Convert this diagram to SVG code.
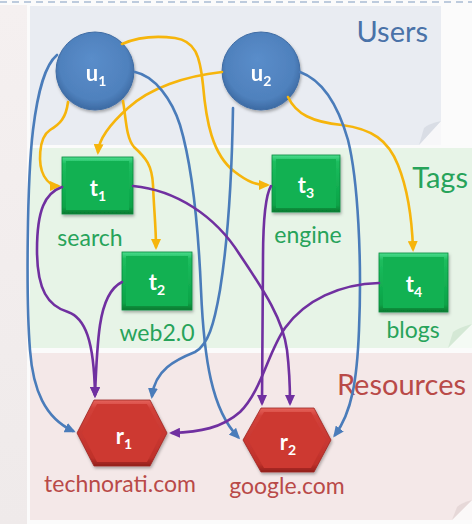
<svg xmlns="http://www.w3.org/2000/svg" width="472" height="524" viewBox="0 0 472 524">
  <defs>
    <style>
      .title { font-family: Lato, "Liberation Sans", sans-serif; font-size: 29px; text-anchor: end; }
      .lbl { font-family: Lato, "Liberation Sans", sans-serif; font-size: 23px; text-anchor: middle; }
      .nid { font-family: Lato, "Liberation Sans", sans-serif; font-size: 22px; font-weight: 700; fill: #ffffff; text-anchor: middle; }
      .sub { font-size: 14px; }
      .edge { fill: none; stroke-width: 2.6; stroke-linecap: round; }
      .ut { stroke: #f6b50c; marker-end: url(#aOrange); }
      .ur { stroke: #4a7cba; marker-end: url(#aBlue); }
      .tr { stroke: #7030a0; marker-end: url(#aPurple); }
    </style>
    <marker id="aOrange" markerUnits="userSpaceOnUse" markerWidth="12" markerHeight="10" refX="8" refY="5" orient="auto">
      <path d="M0,0 L11,5 L0,10 z" fill="#f6b50c"/>
    </marker>
    <marker id="aBlue" markerUnits="userSpaceOnUse" markerWidth="12" markerHeight="10" refX="8" refY="5" orient="auto">
      <path d="M0,0 L11,5 L0,10 z" fill="#4a7cba"/>
    </marker>
    <marker id="aPurple" markerUnits="userSpaceOnUse" markerWidth="12" markerHeight="10" refX="8" refY="5" orient="auto">
      <path d="M0,0 L11,5 L0,10 z" fill="#7030a0"/>
    </marker>
    <radialGradient id="gBlue" cx="50%" cy="45%" r="55%" fx="45%" fy="35%">
      <stop offset="0" stop-color="#5a8dca"/>
      <stop offset="0.8" stop-color="#4f81bd"/>
      <stop offset="1" stop-color="#3c6aa3"/>
    </radialGradient>
    <linearGradient id="gGreen" x1="0" y1="0" x2="0" y2="1">
      <stop offset="0" stop-color="#4cdc8e"/>
      <stop offset="0.12" stop-color="#1cbd5e"/>
      <stop offset="0.88" stop-color="#0aa347"/>
      <stop offset="1" stop-color="#06782f"/>
    </linearGradient>
    <linearGradient id="gRed" x1="0" y1="0" x2="0" y2="1">
      <stop offset="0" stop-color="#e6645c"/>
      <stop offset="0.12" stop-color="#d2413a"/>
      <stop offset="0.88" stop-color="#bf302a"/>
      <stop offset="1" stop-color="#91201c"/>
    </linearGradient>
    <linearGradient id="gMargin" x1="0" y1="0" x2="0" y2="1">
      <stop offset="0" stop-color="#f5f0f0"/>
      <stop offset="1" stop-color="#efeaea"/>
    </linearGradient>
    <filter id="shadow" x="-20%" y="-20%" width="140%" height="150%">
      <feDropShadow dx="1" dy="2" stdDeviation="1.5" flood-color="#000" flood-opacity="0.3"/>
    </filter>
  </defs>

  <!-- page background -->
  <rect x="0" y="0" width="472" height="524" fill="#fbfbfb"/>
  <rect x="0" y="5" width="27" height="519" fill="url(#gMargin)"/>
  <line x1="0" y1="2" x2="472" y2="2" stroke="#a9bcd3" stroke-width="1.5" stroke-dasharray="7 5"/>

  <!-- layer bands -->
  <g id="bands">
    <rect x="30" y="6" width="411" height="139" fill="#e9ecf2"/>
    <path d="M419,145 L441,121 L441,145 z" fill="#f7f7f9"/>
    <path d="M419,145 L441,121 Q428,124 424,128 z" fill="#d9dde5"/>
    <rect x="30" y="148" width="442" height="200" fill="#e7f4e7"/>
    <path d="M448,348 L472,324 L472,348 z" fill="#f4faf4"/>
    <path d="M448,348 L472,324 Q458,328 453,332 z" fill="#d4e8d5"/>
    <rect x="30" y="353" width="442" height="167" fill="#f4e8e8"/>
    <path d="M452,520 L472,500 L472,520 z" fill="#fbf8f8"/>
    <path d="M452,520 L472,500 Q461,503 457,507 z" fill="#e6d8d8"/>
    <text class="title" x="428" y="42" fill="#4a72a8">Users</text>
    <text class="title" x="468" y="188" fill="#27a35a">Tags</text>
    <text class="title" x="466" y="395" fill="#b94a48">Resources</text>
  </g>

  <!-- users -->
  <g id="u1" filter="url(#shadow)">
    <circle cx="95" cy="71" r="39" fill="url(#gBlue)" stroke="#3f6ca4" stroke-width="1"/>
    <text class="nid" x="96" y="81">u<tspan class="sub" dy="5">1</tspan></text>
  </g>
  <g id="u2" filter="url(#shadow)">
    <circle cx="261" cy="71" r="39" fill="url(#gBlue)" stroke="#3f6ca4" stroke-width="1"/>
    <text class="nid" x="261" y="81">u<tspan class="sub" dy="5">2</tspan></text>
  </g>

  <!-- tags -->
  <g id="t1">
    <rect x="62" y="157" width="71" height="57" fill="url(#gGreen)" stroke="#0a8a3c" stroke-width="0.8" filter="url(#shadow)"/>
    <rect x="66" y="161" width="63" height="49" fill="#12b152"/>
    <text class="nid" x="98" y="196">t<tspan class="sub" dy="5">1</tspan></text>
    <text class="lbl" x="90" y="246" fill="#27a35a">search</text>
  </g>
  <g id="t2">
    <rect x="122" y="252" width="70" height="58" fill="url(#gGreen)" stroke="#0a8a3c" stroke-width="0.8" filter="url(#shadow)"/>
    <rect x="126" y="256" width="62" height="50" fill="#12b152"/>
    <text class="nid" x="157" y="290">t<tspan class="sub" dy="5">2</tspan></text>
    <text class="lbl" x="157" y="341" fill="#27a35a">web2.0</text>
  </g>
  <g id="t3">
    <rect x="272" y="155" width="68" height="57" fill="url(#gGreen)" stroke="#0a8a3c" stroke-width="0.8" filter="url(#shadow)"/>
    <rect x="276" y="159" width="60" height="49" fill="#12b152"/>
    <text class="nid" x="306" y="193">t<tspan class="sub" dy="5">3</tspan></text>
    <text class="lbl" x="308" y="243" fill="#27a35a">engine</text>
  </g>
  <g id="t4">
    <rect x="379" y="253" width="69" height="59" fill="url(#gGreen)" stroke="#0a8a3c" stroke-width="0.8" filter="url(#shadow)"/>
    <rect x="383" y="257" width="61" height="51" fill="#12b152"/>
    <text class="nid" x="414" y="292">t<tspan class="sub" dy="5">4</tspan></text>
    <text class="lbl" x="413" y="338" fill="#27a35a">blogs</text>
  </g>

  <!-- resources -->
  <g id="r1">
    <polygon points="77,433 94,400 150,400 167,433 150,466 94,466" fill="url(#gRed)" stroke="#9c2622" stroke-width="0.8" filter="url(#shadow)"/>
    <polygon points="82,433 97,404 147,404 162,433 147,462 97,462" fill="#cd3931"/>
    <text class="nid" x="124" y="444">r<tspan class="sub" dy="5">1</tspan></text>
    <text class="lbl" x="120" y="492" fill="#b94a48">technorati.com</text>
  </g>
  <g id="r2">
    <polygon points="243,440 261,408 314,408 331,440 314,472 261,472" fill="url(#gRed)" stroke="#9c2622" stroke-width="0.8" filter="url(#shadow)"/>
    <polygon points="248,440 264,412 311,412 326,440 311,468 264,468" fill="#cd3931"/>
    <text class="nid" x="288" y="450">r<tspan class="sub" dy="5">2</tspan></text>
    <text class="lbl" x="287" y="494" fill="#b94a48">google.com</text>
  </g>

  <!-- connectors -->
  <g id="connectors">
    <!-- user to tag -->
    <path class="edge ut" d="M68,102 C66,118 60,124 50,130 C38,138 38,165 44,176 C48,183 52,186 58,186"/>
    <path class="edge ut" d="M123,101 C126,118 126,138 134,147 C146,158 152,165 153,185 C154,210 156,228 156,247"/>
    <path class="edge ut" d="M122,44 C140,36 160,36 175,38 C195,41 200,55 203,85 C206,120 212,155 235,172 C248,182 256,185 267,185"/>
    <path class="edge ut" d="M222,72 C185,76 150,88 128,108 C110,124 99,138 98,152"/>
    <path class="edge ut" d="M288,97 C296,114 312,122 342,125 C372,129 388,140 398,165 C408,190 412,220 413,249"/>
    <!-- user to resource -->
    <path class="edge ur" d="M57,55 C45,65 38,90 33,130 C27,180 26,300 30,350 C33,390 45,418 73,431"/>
    <path class="edge ur" d="M135,72 C155,76 172,100 180,125 C192,165 198,220 201,290 C204,360 212,410 238,437"/>
    <path class="edge ur" d="M233,108 C232,170 228,240 220,290 C214,325 208,345 195,352 C175,360 155,370 152,396"/>
    <path class="edge ur" d="M300,72 C322,80 338,105 348,140 C358,180 362,260 359,330 C357,380 352,412 335,435"/>
    <!-- tag to resource -->
    <path class="edge tr" d="M62,187 C45,193 37,210 37,250 C37,290 48,306 68,312 C85,318 94,340 95,395"/>
    <path class="edge tr" d="M122,282 C110,288 103,305 100,325 C97,345 96,370 95,395"/>
    <path class="edge tr" d="M133,186 C175,190 215,215 240,255 C265,292 283,320 287,350 C290,375 290,388 290,403"/>
    <path class="edge tr" d="M271,186 C265,196 263,220 263,260 C263,320 262,370 262,403"/>
    <path class="edge tr" d="M379,283 C340,284 305,300 285,328 C268,352 262,390 240,412 C222,428 200,432 172,433"/>
  </g>
</svg>
